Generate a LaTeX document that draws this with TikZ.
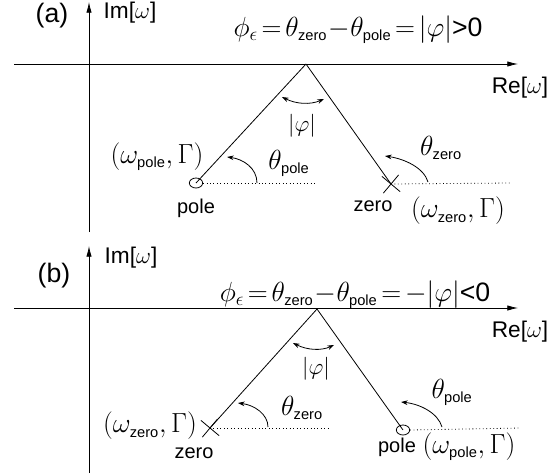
\documentclass[tikz,border=0pt]{standalone}
\usepackage{amsmath}
\usepackage{fontspec}
\setmainfont{Liberation Sans}
\usetikzlibrary{shapes.geometric,shapes.misc,arrows.meta}
\newcommand{\subtxt}[1]{\text{\fontsize{11}{12}\selectfont #1}}
\newcommand{\tightsp}{\thickmuskip=2.5mu\medmuskip=0.5mu\relax}

\begin{document}
\begin{tikzpicture}[x=0.75pt,y=-0.75pt,line width=0.6pt,font=\fontsize{15}{17}\selectfont,
  axis/.style={-{Latex[length=8pt,width=4pt]}},
  polemark/.style={draw,ellipse,minimum width=10pt,minimum height=7.5pt,inner sep=0pt},
  zeromark/.style={draw,cross out,minimum size=12pt,inner sep=0pt,rotate=5},
  guide/.style={dotted},
  anglearc/.style={-{Stealth[length=5pt,width=3.5pt]}},
  twoarc/.style={{Stealth[length=5pt,width=3.5pt]}-{Stealth[length=5pt,width=3.5pt]}},
  big/.style={font=\fontsize{20}{22}\selectfont},
  eqn/.style={font=\fontsize{20}{22}\selectfont},
  huge/.style={font=\fontsize{22}{24}\selectfont},
  mid/.style={font=\fontsize{17}{19}\selectfont}]
\useasboundingbox (0,0) rectangle (556,475);
% (a)
\draw[axis] (14,64) -- (518,64);
\draw[axis] (89,232) -- (89,2);
\coordinate (apexA) at (306,64);
\node[polemark] (poleA) at (196,183) {};
\node[zeromark] (zeroA) at (391,184) {};
\draw (apexA) -- (poleA.center);
\draw (apexA) -- (zeroA.center);
\draw[guide] (poleA.east) -- (317,183);
\draw[guide] (zeroA.center) -- (510,183);
\draw[anglearc] (257,183) .. controls (257,168) and (243,159) .. (227,157);
\draw[anglearc] (428,182) .. controls (424,168) and (405,159) .. (385,156);
\draw[twoarc] (282,97) .. controls (296,104) and (310,105) .. (324,99);
\node[big] (labA) at (52,16) {(a)};
\node[mid] (imA) at (130,13) {Im[$\omega$]};
\node[mid] (reA) at (520,88) {Re[$\omega$]};
\node[eqn] (eqA) at (358,30) {$\tightsp\phi_\epsilon=\theta_{\subtxt{zero}}-\theta_{\subtxt{pole}}=|\varphi|$>0};
\node[mid] (phiA) at (302,126) {$|\varphi|$};
\node[huge] (thpA) at (289,163) {$\theta_{\subtxt{pole}}$};
\node[huge] (thzA) at (441,148) {$\theta_{\subtxt{zero}}$};
\node[big] (wpA) at (157,157) {$(\omega_{\subtxt{pole}},\Gamma)$};
\node (pA) at (196,208) {pole};
\node (zA) at (373,206) {zero};
\node[big] (wzA) at (458,211) {$(\omega_{\subtxt{zero}},\Gamma)$};
% (b)
\draw[axis] (14,308) -- (518,308);
\draw[axis] (89,473) -- (89,246);
\coordinate (apexB) at (317,309);
\node[zeromark] (zeroB) at (210,428) {};
\node[polemark] (poleB) at (403,430) {};
\draw (apexB) -- (zeroB.center);
\draw (apexB) -- (poleB.center);
\draw[guide] (zeroB.center) -- (330,428);
\draw[guide] (poleB.east) -- (520,428);
\draw[anglearc] (268,427) .. controls (268,414) and (254,405) .. (238,403);
\draw[anglearc] (442,427) .. controls (438,413) and (420,404) .. (401,402);
\draw[twoarc] (293,343) .. controls (307,350) and (321,351) .. (334,345);
\node[big] (labB) at (54,276) {(b)};
\node[mid] (imB) at (131,258) {Im[$\omega$]};
\node[mid] (reB) at (520,332) {Re[$\omega$]};
\node[eqn] (eqB) at (355,295) {$\tightsp\phi_\epsilon=\theta_{\subtxt{zero}}-\theta_{\subtxt{pole}}=-|\varphi|$<0};
\node[mid] (phiB) at (316,369) {$|\varphi|$};
\node[huge] (thzB) at (302,408) {$\theta_{\subtxt{zero}}$};
\node[huge] (thpB) at (452,392) {$\theta_{\subtxt{pole}}$};
\node[big] (wzB) at (150,426) {$(\omega_{\subtxt{zero}},\Gamma)$};
\node (zB) at (194,453) {zero};
\node (pB) at (397,447) {pole};
\node[big] (wpB) at (469,447) {$(\omega_{\subtxt{pole}},\Gamma)$};
\end{tikzpicture}
\end{document}
